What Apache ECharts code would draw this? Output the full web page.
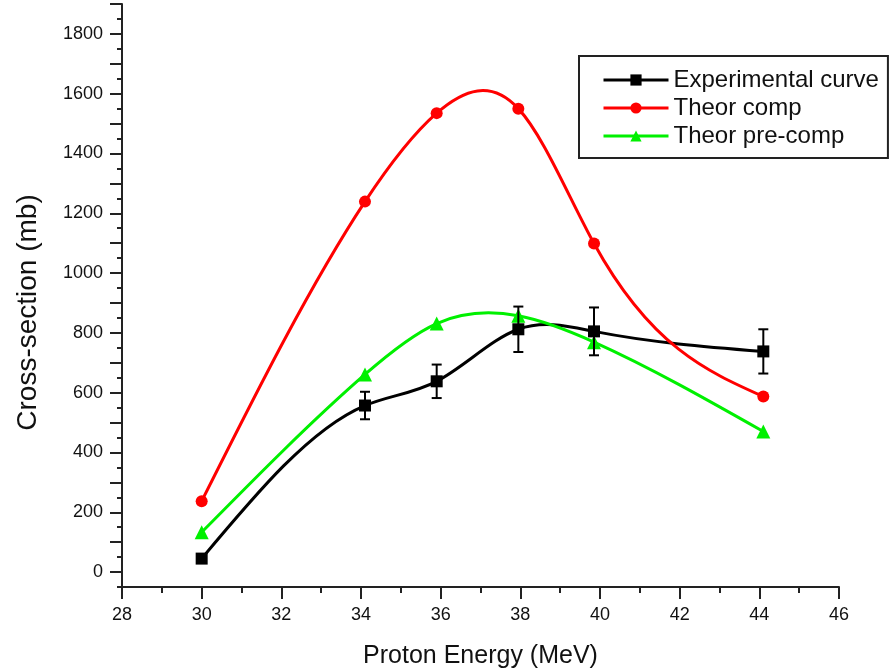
<!DOCTYPE html>
<html>
<head>
<meta charset="utf-8">
<script src="https://cdn.jsdelivr.net/npm/echarts@6/dist/echarts.min.js"></script>
<style>html,body{margin:0;padding:0;background:#fff}#chart{width:891px;height:672px}</style>
</head>
<body>
<div id="chart"></div>
<script>
var energy = [30, 34.1, 35.9, 37.95, 39.85, 44.1];
var expValues = [45, 557, 638, 812, 805, 738];
var expErrors = [null, 46, 56, 76, 80, 74];
var compValues = [237, 1239, 1535, 1550, 1099, 587];
var precompValues = [133, 661, 831, 857, 769, 470];
var seriesNames = ['Experimental curve', 'Theor comp', 'Theor pre-comp'];
var yLabels = [0, 200, 400, 600, 800, 1000, 1200, 1400, 1600, 1800];
var yMajorTicks = [0, 100, 200, 300, 400, 500, 600, 700, 800, 900, 1000, 1100, 1200, 1300, 1400, 1500, 1600, 1700, 1800, 1900];

function pairs(xs, ys) { return xs.map(function (x, i) { return [x, ys[i]]; }); }

// natural cubic spline node slopes (rendering only, like Origin's "Spline" connection)
function splineSlopes(xs, ys) {
  var n = xs.length, h = [], d = [], i;
  for (i = 0; i < n - 1; i++) { h[i] = xs[i + 1] - xs[i]; d[i] = (ys[i + 1] - ys[i]) / h[i]; }
  var M = new Array(n).fill(0);
  var a = [], b = [], c = [], r = [];
  for (i = 1; i < n - 1; i++) {
    a.push(h[i - 1]); b.push(2 * (h[i - 1] + h[i])); c.push(h[i]); r.push(6 * (d[i] - d[i - 1]));
  }
  var m = b.length;
  for (i = 1; i < m; i++) {
    var w = a[i] / b[i - 1];
    b[i] -= w * c[i - 1]; r[i] -= w * r[i - 1];
  }
  var sol = new Array(m);
  for (i = m - 1; i >= 0; i--) sol[i] = (r[i] - (i < m - 1 ? c[i] * sol[i + 1] : 0)) / b[i];
  for (i = 0; i < m; i++) M[i + 1] = sol[i];
  var s = [];
  for (i = 0; i < n - 1; i++) s[i] = d[i] - h[i] * (2 * M[i] + M[i + 1]) / 6;
  s[n - 1] = d[n - 2] + h[n - 2] * (M[n - 2] + 2 * M[n - 1]) / 6;
  return s;
}

function splineSeries(xs, ys, color, z) {
  var slopes = splineSlopes(xs, ys);
  return {
    type: 'custom', z: z, silent: true,
    data: pairs(xs, ys),
    encode: { x: 0, y: 1 },
    renderItem: function (params, api) {
      var i = params.dataIndex;
      if (i >= xs.length - 1) return { type: 'group', children: [] };
      var h = xs[i + 1] - xs[i];
      var p0 = api.coord([xs[i], ys[i]]);
      var p3 = api.coord([xs[i + 1], ys[i + 1]]);
      var c1 = api.coord([xs[i] + h / 3, ys[i] + slopes[i] * h / 3]);
      var c2 = api.coord([xs[i + 1] - h / 3, ys[i + 1] - slopes[i + 1] * h / 3]);
      return {
        type: 'bezierCurve',
        shape: { x1: p0[0], y1: p0[1], x2: p3[0], y2: p3[1], cpx1: c1[0], cpy1: c1[1], cpx2: c2[0], cpy2: c2[1] },
        style: { stroke: color, lineWidth: 3, fill: null }
      };
    }
  };
}

var errData = [];
energy.forEach(function (x, i) {
  if (expErrors[i] != null) errData.push([x, expValues[i] - expErrors[i], expValues[i] + expErrors[i]]);
});

var font = 'Liberation Sans, Arial, sans-serif';
var axisColor = '#222';
var colors = ['#000000', '#ff0000', '#00f000'];
var plain = function (v) { return String(v); };

function markerSeries(name, values, symbol, size, color, z) {
  return {
    name: name, type: 'line', data: pairs(energy, values),
    symbol: symbol, symbolSize: size, showSymbol: true,
    lineStyle: { color: color, width: 3, opacity: 0 },
    itemStyle: { color: color }, z: z
  };
}

var chart = echarts.init(document.getElementById('chart'));
chart.setOption({
  animation: false,
  backgroundColor: '#fff',
  grid: { left: 122, right: 52, top: 4, bottom: 85, containLabel: false, outerBoundsMode: 'none' },
  legend: {
    orient: 'vertical', left: 579, top: 56,
    padding: [12, 9, 10, 23], itemGap: 4,
    itemWidth: 65, itemHeight: 14,
    borderColor: '#222', borderWidth: 2, backgroundColor: '#fff',
    lineStyle: { opacity: 1, width: 3 },
    textStyle: { fontFamily: font, fontSize: 24, color: '#111' },
    data: seriesNames
  },
  xAxis: {
    type: 'value', min: 28, max: 46, interval: 2,
    name: 'Proton Energy (MeV)', nameLocation: 'middle', nameGap: 57,
    nameTextStyle: { fontFamily: font, fontSize: 25, color: '#111' },
    axisLine: { show: true, onZero: false, lineStyle: { color: axisColor, width: 2 } },
    axisTick: { show: true, inside: false, length: 12, lineStyle: { color: axisColor, width: 2 } },
    minorTick: { show: true, splitNumber: 2, length: 6, lineStyle: { color: axisColor, width: 2 } },
    axisLabel: { fontFamily: font, fontSize: 18, color: '#111', margin: 19, formatter: plain },
    splitLine: { show: false }
  },
  yAxis: [{
    type: 'value', min: -50, max: 1900, interval: 50, position: 'left',
    name: 'Cross-section (mb)', nameLocation: 'middle', nameGap: 80, nameRotate: 90,
    nameTextStyle: { fontFamily: font, fontSize: 28, color: '#111', padding: [0, 34, 0, 0] },
    axisLine: { show: true, onZero: false, lineStyle: { color: axisColor, width: 2 } },
    axisTick: { show: true, inside: false, length: 12, customValues: yMajorTicks, lineStyle: { color: axisColor, width: 2 } },
    axisLabel: { fontFamily: font, fontSize: 18, color: '#111', margin: 19, customValues: yLabels, formatter: plain },
    splitLine: { show: false }
  }, {
    type: 'value', min: -50, max: 1900, interval: 50, position: 'left', offset: 0,
    axisLine: { show: false },
    axisTick: { show: true, inside: false, length: 5, lineStyle: { color: axisColor, width: 2 } },
    axisLabel: { show: false },
    splitLine: { show: false }
  }],
  series: [
    splineSeries(energy, expValues, colors[0], 2),
    markerSeries(seriesNames[0], expValues, 'rect', 12, colors[0], 3),
    splineSeries(energy, compValues, colors[1], 4),
    markerSeries(seriesNames[1], compValues, 'circle', 12, colors[1], 5),
    splineSeries(energy, precompValues, colors[2], 6),
    markerSeries(seriesNames[2], precompValues, 'triangle', 14, colors[2], 7),
    {
      type: 'custom', name: 'err', z: 8, silent: true,
      data: errData,
      renderItem: function (params, api) {
        var x = api.value(0);
        var lo = api.coord([x, api.value(1)]);
        var hi = api.coord([x, api.value(2)]);
        var w = 5;
        var st = { stroke: '#000', lineWidth: 2 };
        return { type: 'group', children: [
          { type: 'line', shape: { x1: lo[0], y1: lo[1], x2: hi[0], y2: hi[1] }, style: st },
          { type: 'line', shape: { x1: lo[0] - w, y1: lo[1], x2: lo[0] + w, y2: lo[1] }, style: st },
          { type: 'line', shape: { x1: hi[0] - w, y1: hi[1], x2: hi[0] + w, y2: hi[1] }, style: st }
        ] };
      }
    }
  ]
});
</script>
</body>
</html>
